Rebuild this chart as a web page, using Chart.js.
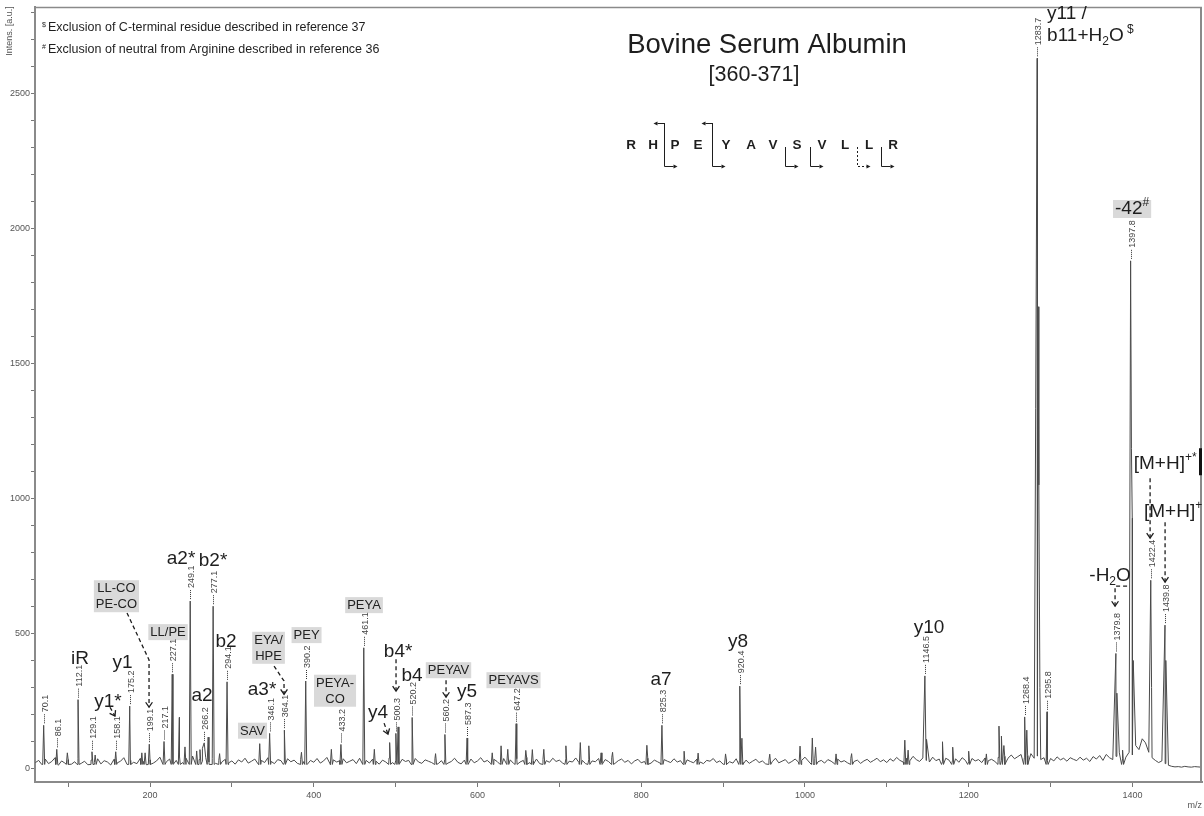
<!DOCTYPE html>
<html>
<head>
<meta charset="utf-8">
<script src="https://cdn.jsdelivr.net/npm/chart.js@4.4.1/dist/chart.umd.min.js"></script>
<style>
  html, body { margin: 0; padding: 0; background: #fff; }
</style>
</head>
<body>
<canvas id="spectrum" width="1204" height="816"></canvas>
<script>
// baseline noise, read every 4 m/z starting at 60
const noiseStart = 60;
const noiseStep = 4;
const noise = [
  22,30,14,35,18,26,40,12,28,20,33,16,25,38,19,27,14,31,22,36,
  17,29,24,13,34,21,27,40,15,30,23,18,37,26,14,32,20,28,42,19,
  25,35,18,30,44,22,38,28,46,20,33,27,41,24,36,19,30,25,34,21,
  28,16,32,24,38,20,27,35,17,30,22,40,26,18,33,29,21,36,25,31,
  19,34,26,15,30,23,37,20,28,41,17,32,24,29,36,21,27,33,18,38,
  25,30,20,35,27,16,31,24,39,22,28,18,34,26,30,21,37,24,19,32,
  27,22,36,18,29,33,20,26,38,23,17,31,25,35,21,28,40,24,30,19,
  34,26,21,37,28,32,19,36,24,30,41,22,27,35,18,33,29,23,38,26,
  31,20,36,27,24,39,22,30,18,34,28,25,37,21,33,26,40,19,29,35,
  23,30,17,28,34,21,26,38,20,31,25,18,33,27,22,36,24,29,19,32,
  26,21,35,24,18,30,27,37,22,28,16,33,25,20,36,29,23,31,19,27,
  34,22,28,17,31,25,38,21,27,33,19,26,35,24,30,42,28,22,36,25,
  30,20,33,27,18,35,24,29,21,37,26,31,19,28,34,23,30,38,25,32,
  22,36,27,41,30,24,38,28,45,33,26,39,30,24,42,29,35,25,38,31,
  27,36,23,40,30,25,37,28,33,22,39,29,34,26,41,30,45,38,50,36,
  44,52,40,48,55,38,46,33,40,30,37,28,43,32,38,27,40,34,29,42,
  31,38,26,44,35,48,30,52,40,33,45,58,36,42,60,50,85,70,110,95,
  60,40,30,22,28,18,12,8,6,7,5,8,6,5,7,6,5
];

// peaks that carry an m/z label
const labelledMz = [70.1, 86.1, 112.1, 129.1, 158.1, 175.2, 199.1, 217.1, 227.1, 249.1, 266.2, 277.1,
  294.1, 346.1, 364.1, 390.2, 433.2, 461.1, 500.3, 520.2, 560.2, 587.3, 647.2, 825.3, 920.4,
  1146.5, 1268.4, 1283.7, 1295.8, 1379.8, 1397.8, 1422.4, 1439.8];
const labelledInt = [160, 71, 255, 62, 62, 231, 90, 100, 349, 620, 95, 601,
  321, 130, 142, 324, 89, 447, 130, 189, 126, 113, 166, 160, 305,
  343, 191, 2630, 210, 426, 1880, 697, 531];

// other peaks without a label
const otherMz = [99, 133, 190, 194, 235.8, 242.7, 257, 261, 264, 271, 285, 334, 385, 421.5, 474,
  492.7, 503, 548.8, 618, 628.8, 637, 659, 667, 681, 708, 725.6, 736, 751, 765, 806.9, 852.4,
  869.5, 903, 923, 957, 994, 1009, 1013, 1038, 1057, 1122, 1126, 1148.5, 1168, 1180.5, 1200,
  1221.6, 1237, 1240, 1243, 1271, 1284.7, 1285.7, 1287, 1381, 1388, 1398.8, 1399.8, 1401,
  1423.4, 1440.8];
const otherInt = [58, 50, 58, 58, 189, 80, 65, 70, 75, 116, 55, 92, 60, 71, 71,
  96, 154, 55, 58, 84, 71, 67, 70, 71, 84, 96, 84, 58, 60, 86, 64,
  57, 54, 112, 53, 83, 113, 79, 54, 55, 105, 68, 108, 99, 79, 64,
  54, 157, 120, 85, 142, 1710, 1050, 300, 279, 68, 1186, 927, 400,
  300, 400];
const footLevel = 15;

const xMajorTicks = [200, 400, 600, 800, 1000, 1200, 1400];
const xMinorTicks = [100, 300, 500, 700, 900, 1100, 1300];
const yMajorTicks = [0, 500, 1000, 1500, 2000, 2500];
const yMinorTicks = [100, 200, 300, 400, 600, 700, 800, 900, 1100, 1200, 1300, 1400, 1600, 1700,
  1800, 1900, 2100, 2200, 2300, 2400, 2600, 2700, 2800];

// annotation layout (data coordinates: [m/z, intensity])
const ionLabels = [
  { segs: [{ t: 'iR' }], at: [114.5, 405] },
  { segs: [{ t: 'y1' }], at: [166.4, 390] },
  { segs: [{ t: 'y1*' }], at: [148.7, 246] },
  { segs: [{ t: 'a2' }], at: [263.5, 268] },
  { segs: [{ t: 'b2' }], at: [292.8, 471] },
  { segs: [{ t: 'a3*' }], at: [336.8, 290] },
  { segs: [{ t: 'a2*' }], at: [237.9, 775] },
  { segs: [{ t: 'b2*' }], at: [277, 768] },
  { segs: [{ t: 'b4*' }], at: [503, 434] },
  { segs: [{ t: 'b4' }], at: [520, 342] },
  { segs: [{ t: 'y4' }], at: [478.5, 205] },
  { segs: [{ t: 'y5' }], at: [587.2, 283] },
  { segs: [{ t: 'a7' }], at: [824.2, 327] },
  { segs: [{ t: 'y8' }], at: [918.3, 471] },
  { segs: [{ t: 'y10' }], at: [1151.6, 520] },
  { segs: [{ t: '-H' }, { t: '2', sub: true }, { t: 'O' }], at: [1372.7, 712] },
  { segs: [{ t: '[M+H]' }, { t: '+*', sup: true }], at: [1440, 1127] },
  { segs: [{ t: '[M+H]' }, { t: '+', sup: true }], at: [1449.7, 949] }
];
const boxLabels = [
  { lines: ['LL-CO', 'PE-CO'], at: [159, 638] },
  { lines: ['LL/PE'], at: [222, 505] },
  { lines: ['EYA/', 'HPE'], at: [344.8, 447] },
  { lines: ['PEY'], at: [391.2, 494] },
  { lines: ['PEYA'], at: [461.4, 605] },
  { lines: ['PEYA-', 'CO'], at: [426, 288] },
  { lines: ['SAV'], at: [325.2, 140] },
  { lines: ['PEYAV'], at: [564.6, 364] },
  { lines: ['PEYAVS'], at: [644, 327] }
];
const arrows = [
  [[151.1, 227], [157.2, 194]],
  [[171.9, 576], [198.8, 402], [198.8, 227]],
  [[351.5, 379], [363.7, 324], [363.7, 275]],
  [[500.5, 405], [500.5, 287]],
  [[485.9, 168], [490.7, 127]],
  [[561.6, 327], [561.6, 264]],
  [[1393.5, 675], [1378.8, 675], [1378.8, 601]],
  [[1421.6, 1075], [1421.6, 853]],
  [[1439.9, 912], [1439.9, 690]]
];

const sequence = ['R', 'H', 'P', 'E', 'Y', 'A', 'V', 'S', 'V', 'L', 'L', 'R'];
const seqX = [631, 653, 675, 698, 726, 751, 773, 797, 822, 845, 869, 893];
// cleavage after residue index: kind 'both' = N- and C-terminal arrows
const cleavages = [
  { after: 1, kind: 'both' }, { after: 3, kind: 'both' }, { after: 6, kind: 'low' },
  { after: 7, kind: 'low' }, { after: 9, kind: 'dash' }, { after: 10, kind: 'low' }
];

// build spectrum points
const peaks = [];
labelledMz.forEach((m, i) => peaks.push({ x: m, y: labelledInt[i] }));
otherMz.forEach((m, i) => peaks.push({ x: m, y: otherInt[i] }));
const peakMz = peaks.map(p => p.x);
const points = noise.map((v, i) => ({ x: noiseStart + i * noiseStep, y: v }));
peaks.forEach(p => {
  points.push(p);
  const crowded = peakMz.some(m => m !== p.x && Math.abs(m - p.x) < 2.5);
  if (!crowded) {
    points.push({ x: p.x - 1.2, y: footLevel });
    points.push({ x: p.x + 1.2, y: footLevel });
  }
});
points.sort((a, b) => a.x - b.x);

const NARROW = '"Liberation Sans Narrow", "Liberation Sans", Arial, sans-serif';
const SANS = '"Liberation Sans", Arial, sans-serif';

function drawRich(ctx, x, y, segs, size, align) {
  const fontOf = s => (s.sub || s.sup ? Math.round(size * 0.62) : size) + 'px ' + SANS;
  let w = 0;
  segs.forEach(s => { ctx.font = fontOf(s); w += ctx.measureText(s.t).width; });
  let cx = align === 'center' ? x - w / 2 : x;
  segs.forEach(s => {
    ctx.font = fontOf(s);
    const dy = s.sub ? size * 0.3 : s.sup ? -size * 0.32 : 0;
    ctx.fillText(s.t, cx, y + dy);
    cx += ctx.measureText(s.t).width;
  });
}

function arrowHead(ctx, x0, y0, x1, y1) {
  const ang = Math.atan2(y1 - y0, x1 - x0);
  const len = 6;
  ctx.setLineDash([]);
  ctx.beginPath();
  ctx.moveTo(x1 - len * Math.cos(ang - 0.6), y1 - len * Math.sin(ang - 0.6));
  ctx.lineTo(x1, y1);
  ctx.lineTo(x1 - len * Math.cos(ang + 0.6), y1 - len * Math.sin(ang + 0.6));
  ctx.stroke();
}

function tri(ctx, x, y, dir) {
  ctx.beginPath();
  ctx.moveTo(x, y);
  ctx.lineTo(x - 4 * dir, y - 2);
  ctx.lineTo(x - 4 * dir, y + 2);
  ctx.closePath();
  ctx.fill();
}

const annotations = {
  id: 'annotations',
  afterDraw(chart) {
    const ctx = chart.ctx;
    const area = chart.chartArea;
    const X = v => chart.scales.x.getPixelForValue(v);
    const Y = v => chart.scales.y.getPixelForValue(v);
    ctx.save();

    // frame top + right
    ctx.strokeStyle = '#8a8a8a';
    ctx.lineWidth = 1.5;
    ctx.beginPath();
    ctx.moveTo(area.left, area.top + 0.5);
    ctx.lineTo(area.right, area.top + 0.5);
    ctx.stroke();
    ctx.lineWidth = 2;
    ctx.beginPath();
    ctx.moveTo(area.right - 1, area.top);
    ctx.lineTo(area.right - 1, area.bottom);
    ctx.stroke();

    // axis titles
    ctx.fillStyle = '#555';
    ctx.font = '9px ' + NARROW;
    ctx.textAlign = 'right';
    ctx.textBaseline = 'middle';
    ctx.fillText('m/z', area.right, 806);
    ctx.save();
    ctx.translate(10, 31);
    ctx.rotate(-Math.PI / 2);
    ctx.textAlign = 'center';
    ctx.fillText('Intens. [a.u.]', 0, 0);
    ctx.restore();

    // grey boxed labels
    ctx.font = '13px ' + SANS;
    ctx.textAlign = 'center';
    ctx.textBaseline = 'middle';
    boxLabels.forEach(b => {
      const cx = X(b.at[0]);
      const cy = Y(b.at[1]);
      const lh = 16;
      const w = Math.max(...b.lines.map(l => ctx.measureText(l).width)) + 4;
      const h = lh * b.lines.length;
      ctx.fillStyle = '#d9d9d9';
      ctx.fillRect(cx - w / 2, cy - h / 2, w, h);
      ctx.fillStyle = '#222';
      b.lines.forEach((l, k) => ctx.fillText(l, cx, cy - h / 2 + lh * (k + 0.5) + 0.5));
    });

    // -42# box
    const bx = X(1399.6), by = Y(2072);
    ctx.font = '19px ' + SANS;
    const w42 = ctx.measureText('-42').width;
    ctx.font = '12px ' + SANS;
    const wHash = ctx.measureText('#').width;
    ctx.fillStyle = '#d9d9d9';
    ctx.fillRect(bx - (w42 + wHash) / 2 - 2, by - 9, w42 + wHash + 4, 18);
    ctx.fillStyle = '#1e1e1e';
    ctx.textAlign = 'left';
    drawRich(ctx, bx, by, [{ t: '-42' }, { t: '#', sup: true }], 19, 'center');

    // m/z labels over peaks
    labelledMz.forEach((m, i) => {
      const x = Math.round(X(m)) + 0.5;
      const top = Y(labelledInt[i]);
      ctx.strokeStyle = '#333';
      ctx.lineWidth = 1;
      ctx.setLineDash([1, 1]);
      ctx.beginPath();
      ctx.moveTo(x, top - 2);
      ctx.lineTo(x, top - 12);
      ctx.stroke();
      ctx.setLineDash([]);
      ctx.save();
      ctx.translate(x + 1, top - 13);
      ctx.rotate(-Math.PI / 2);
      ctx.font = '9px ' + NARROW;
      ctx.fillStyle = '#444';
      ctx.textAlign = 'left';
      ctx.textBaseline = 'middle';
      ctx.fillText(m.toFixed(1), 0, 0);
      ctx.restore();
    });

    // ion labels
    ctx.fillStyle = '#1e1e1e';
    ctx.textAlign = 'left';
    ctx.textBaseline = 'middle';
    ionLabels.forEach(l => drawRich(ctx, X(l.at[0]), Y(l.at[1]), l.segs, 19, 'center'));

    // y11 label near the base peak
    const lx = X(1295.8);
    drawRich(ctx, lx, Y(2796), [{ t: 'y11 /' }], 19, 'left');
    drawRich(ctx, lx, Y(2712), [{ t: 'b11+H' }, { t: '2', sub: true }, { t: 'O' }, { t: ' $', sup: true }], 19, 'left');

    // black bar at right of [M+H]+* label
    ctx.fillStyle = '#111';
    ctx.fillRect(area.right - 3, Y(1186), 3, Y(1086) - Y(1186));

    // dashed arrows
    ctx.strokeStyle = '#1e1e1e';
    ctx.lineWidth = 1.3;
    arrows.forEach(a => {
      const pts = a.map(p => [X(p[0]), Y(p[1])]);
      ctx.setLineDash([4, 3]);
      ctx.beginPath();
      pts.forEach((p, k) => (k ? ctx.lineTo(p[0], p[1]) : ctx.moveTo(p[0], p[1])));
      ctx.stroke();
      const n = pts.length;
      arrowHead(ctx, pts[n - 2][0], pts[n - 2][1], pts[n - 1][0], pts[n - 1][1]);
    });

    // title block
    ctx.fillStyle = '#1e1e1e';
    ctx.textAlign = 'center';
    ctx.textBaseline = 'alphabetic';
    ctx.font = '27.5px ' + SANS;
    ctx.fillText('Bovine Serum Albumin', 767, 53);
    ctx.font = '21.5px ' + SANS;
    ctx.fillText('[360-371]', 754, 81);

    // sequence with fragment markers
    ctx.font = 'bold 13.5px ' + SANS;
    sequence.forEach((s, i) => ctx.fillText(s, seqX[i], 149));
    ctx.strokeStyle = '#1e1e1e';
    ctx.lineWidth = 1;
    cleavages.forEach(c => {
      const x = Math.round((seqX[c.after] + seqX[c.after + 1]) / 2) + 0.5;
      ctx.setLineDash(c.kind === 'dash' ? [2, 2] : []);
      ctx.beginPath();
      ctx.moveTo(x, c.kind === 'both' ? 123 : 147);
      ctx.lineTo(x, 166.5);
      ctx.lineTo(x + 9, 166.5);
      if (c.kind === 'both') {
        ctx.moveTo(x, 123.5);
        ctx.lineTo(x - 7, 123.5);
      }
      ctx.stroke();
      ctx.setLineDash([]);
      ctx.fillStyle = '#1e1e1e';
      tri(ctx, x + 13, 166.5, 1);
      if (c.kind === 'both') tri(ctx, x - 11, 123.5, -1);
    });

    // footnotes
    ctx.textAlign = 'left';
    ctx.textBaseline = 'middle';
    ctx.font = '7px ' + SANS;
    ctx.fillText('$', 42, 25);
    ctx.fillText('#', 42, 47);
    ctx.font = '12.5px ' + SANS;
    ctx.fillText('Exclusion of C-terminal residue described in reference 37', 48, 28);
    ctx.fillText('Exclusion of neutral from Arginine described in reference 36', 48, 50);

    ctx.restore();
  }
};

new Chart(document.getElementById('spectrum'), {
  type: 'line',
  data: {
    datasets: [{
      data: points,
      borderColor: '#4a4a4a',
      borderWidth: 1,
      pointRadius: 0,
      tension: 0,
      fill: false
    }]
  },
  options: {
    responsive: false,
    animation: false,
    devicePixelRatio: 1,
    layout: { padding: { top: 7, right: 2, left: 0, bottom: 0 } },
    plugins: { legend: { display: false }, tooltip: { enabled: false } },
    scales: {
      x: {
        type: 'linear',
        min: 59.5,
        max: 1485,
        afterBuildTicks: s => {
          s.ticks = xMinorTicks.concat(xMajorTicks).sort((a, b) => a - b).map(v => ({ value: v }));
        },
        afterFit: s => { s.height = 34; },
        ticks: {
          autoSkip: false,
          maxRotation: 0,
          padding: 3,
          color: '#555',
          font: { family: NARROW, size: 9 },
          callback: v => (xMajorTicks.includes(v) ? String(v) : '')
        },
        grid: { drawOnChartArea: false, drawTicks: true, tickLength: 5, color: '#777' },
        border: { color: '#8a8a8a', width: 2 }
      },
      y: {
        min: -50,
        max: 2820,
        afterBuildTicks: s => {
          s.ticks = yMinorTicks.concat(yMajorTicks).sort((a, b) => a - b).map(v => ({ value: v }));
        },
        afterFit: s => { s.width = 35; },
        ticks: {
          autoSkip: false,
          padding: 1,
          color: '#555',
          font: { family: NARROW, size: 9 },
          callback: v => (yMajorTicks.includes(v) ? String(v) : '')
        },
        grid: { drawOnChartArea: false, drawTicks: true, tickLength: 4, color: '#777' },
        border: { color: '#8a8a8a', width: 2 }
      }
    }
  },
  plugins: [annotations]
});
</script>
</body>
</html>
